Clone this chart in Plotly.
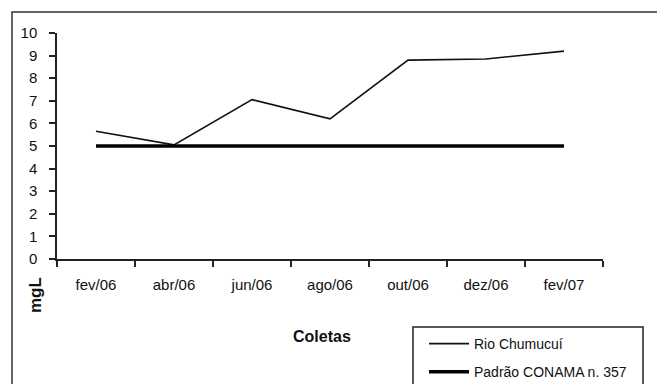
import plotly.graph_objects as go

# Sampling campaigns (x categories)
coletas = ["fev/06", "abr/06", "jun/06", "ago/06", "out/06", "dez/06", "fev/07"]
# Measured values, Rio Chumucuí (mg/L)
rio_chumucui = [5.65, 5.05, 7.05, 6.2, 8.8, 8.85, 9.2]
# CONAMA 357 reference standard (mg/L)
padrao_conama = [5, 5, 5, 5, 5, 5, 5]
y_ticks = list(range(0, 11))

FONT = "Liberation Sans, Arial, sans-serif"
W, H = 657, 384
L, R, T, B = 57, 54, 33, 125
pw, ph = W - L - R, H - T - B


def px_x(x):
    return (x - L) / pw


def px_y(y):
    return (H - B - y) / ph


fig = go.Figure()
fig.add_trace(go.Scatter(
    x=coletas, y=rio_chumucui, mode="lines", name="Rio Chumucuí",
    line=dict(color="#111111", width=1.6), legendgroup="a",
))
fig.add_trace(go.Scatter(
    x=coletas, y=padrao_conama, mode="lines", name="Padrão CONAMA n. 357",
    line=dict(color="#000000", width=3.5), legendgroup="b",
))

fig.update_layout(
    width=W, height=H,
    margin=dict(l=L, r=R, t=T, b=B, autoexpand=False),
    paper_bgcolor="white", plot_bgcolor="white",
    font=dict(family=FONT, color="#111111", size=14),
    showlegend=True,
    legend=dict(
        x=px_x(424), y=px_y(328), xanchor="left", yanchor="top",
        bgcolor="rgba(0,0,0,0)", borderwidth=0,
        font=dict(size=14, family=FONT),
        tracegroupgap=7, itemwidth=40,
    ),
    xaxis=dict(
        type="category", categoryorder="array", categoryarray=coletas,
        range=[-0.5, len(coletas) - 0.5],
        tickson="boundaries", ticks="outside", ticklen=6, tickwidth=1.5,
        tickcolor="#222222", showline=True, linecolor="#222222", linewidth=1.5,
        showgrid=False, zeroline=False, tickfont=dict(size=15),
        ticklabelstandoff=11,
    ),
    yaxis=dict(
        range=[0, 10], tickvals=y_ticks, ticks="outside", ticklen=6,
        tickwidth=1.5, tickcolor="#222222", showline=True,
        linecolor="#222222", linewidth=1.5, showgrid=False, zeroline=False,
        tickfont=dict(size=15), ticklabelstandoff=9,
    ),
    shapes=[
        # outer frame
        dict(type="rect", xref="paper", yref="paper",
             x0=px_x(12), x1=px_x(700), y0=px_y(420), y1=px_y(12),
             line=dict(color="#333333", width=1.5), layer="below"),
        # legend frame
        dict(type="rect", xref="paper", yref="paper",
             x0=px_x(413), x1=px_x(643), y0=px_y(400), y1=px_y(327),
             line=dict(color="#222222", width=1.5)),
    ],
    annotations=[
        dict(text="<b>Coletas</b>", xref="paper", yref="paper",
             x=px_x(322), y=px_y(336), xanchor="center", yanchor="middle",
             showarrow=False, font=dict(size=16, family=FONT)),
        dict(text="<b>mgL</b>", xref="paper", yref="paper",
             x=px_x(35), y=px_y(295), xanchor="center", yanchor="middle",
             textangle=-90, showarrow=False, font=dict(size=17, family=FONT)),
    ],
)

fig.write_html("out.html")
